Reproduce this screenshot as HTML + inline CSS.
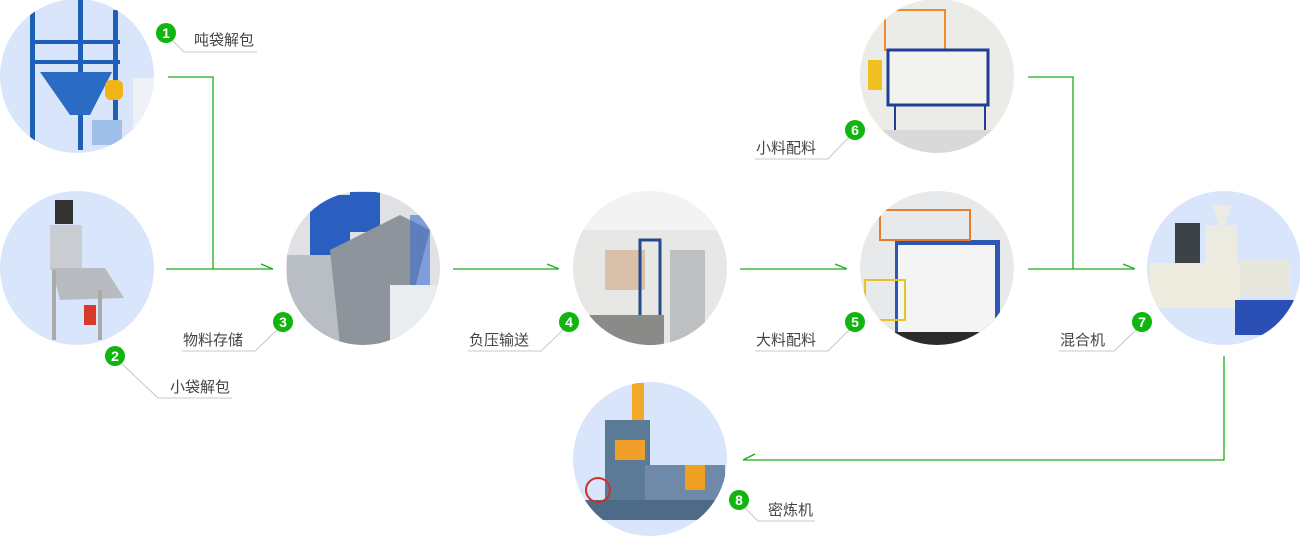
<!DOCTYPE html>
<html><head><meta charset="utf-8"><style>
html,body{margin:0;padding:0;background:#fff;width:1300px;height:538px;overflow:hidden}
svg text{font-family:"Liberation Sans","Noto Sans CJK SC",sans-serif;}
</style></head><body>
<svg width="1300" height="538" viewBox="0 0 1300 538" xmlns="http://www.w3.org/2000/svg">
<defs>
<clipPath id="c1"><circle cx="77" cy="76" r="77"/></clipPath>
<clipPath id="c2"><circle cx="77" cy="268" r="77"/></clipPath>
<clipPath id="c3"><circle cx="363" cy="268" r="77"/></clipPath>
<clipPath id="c4"><circle cx="650" cy="268" r="77"/></clipPath>
<clipPath id="c5"><circle cx="937" cy="268" r="77"/></clipPath>
<clipPath id="c6"><circle cx="937" cy="76" r="77"/></clipPath>
<clipPath id="c7"><circle cx="1224" cy="268" r="77"/></clipPath>
<clipPath id="c8"><circle cx="650" cy="459" r="77"/></clipPath>
</defs>

<!-- circle 1 -->
<g clip-path="url(#c1)">
<rect x="0" y="0" width="154" height="154" fill="#d9e5fa"/>
<rect x="30" y="0" width="5" height="150" fill="#1f5fb8"/>
<rect x="78" y="0" width="5" height="150" fill="#1f5fb8"/>
<rect x="113" y="10" width="5" height="120" fill="#1f5fb8"/>
<rect x="30" y="40" width="90" height="4" fill="#1f5fb8"/>
<rect x="30" y="60" width="90" height="4" fill="#1f5fb8"/>
<polygon points="40,72 112,72 90,115 70,115" fill="#2a6cc4"/>
<rect x="105" y="80" width="18" height="20" rx="6" fill="#f0b418"/>
<rect x="92" y="120" width="30" height="25" fill="#9fc0e8"/>
<rect x="133" y="78" width="21" height="50" fill="#eef2f6"/>
</g>
<!-- circle 2 -->
<g clip-path="url(#c2)">
<rect x="0" y="190" width="154" height="156" fill="#d9e5fa"/>
<rect x="50" y="225" width="32" height="45" fill="#c9ccd0"/>
<rect x="55" y="200" width="18" height="24" fill="#333"/>
<polygon points="52,268 105,268 124,298 60,300" fill="#b8bcc0"/>
<rect x="52" y="270" width="4" height="70" fill="#aaa"/>
<rect x="98" y="290" width="4" height="50" fill="#aaa"/>
<rect x="84" y="305" width="12" height="20" fill="#d83a2a"/>
</g>
<!-- circle 3 -->
<g clip-path="url(#c3)">
<rect x="285" y="190" width="160" height="160" fill="#dfe1e4"/>
<rect x="310" y="195" width="40" height="60" fill="#2a5fc0"/>
<rect x="350" y="192" width="30" height="40" fill="#2a5fc0"/>
<rect x="287" y="255" width="60" height="90" fill="#b9bec4"/>
<polygon points="330,250 400,215 430,230 400,345 340,345" fill="#8d949c"/>
<rect x="410" y="215" width="20" height="100" fill="#3f6fd0" opacity=".6"/>
<rect x="390" y="285" width="50" height="55" fill="#e9edf0"/>
</g>
<!-- circle 4 -->
<g clip-path="url(#c4)">
<rect x="570" y="190" width="160" height="160" fill="#e7e7e6"/>
<rect x="570" y="190" width="160" height="40" fill="#f3f3f3"/>
<rect x="605" y="250" width="40" height="40" fill="#d9c0a8"/>
<rect x="640" y="240" width="20" height="105" fill="none" stroke="#234a8a" stroke-width="3"/>
<rect x="670" y="250" width="35" height="95" fill="#bdbfc1"/>
<rect x="574" y="315" width="90" height="30" fill="#8a8a88"/>
</g>
<!-- circle 5 -->
<g clip-path="url(#c5)">
<rect x="855" y="190" width="165" height="160" fill="#e8e9ea"/>
<rect x="895" y="240" width="105" height="95" fill="#2c58b3"/>
<rect x="898" y="245" width="97" height="88" fill="#f4f4f4"/>
<rect x="880" y="210" width="90" height="30" fill="none" stroke="#e77c2f" stroke-width="2"/>
<rect x="865" y="280" width="40" height="40" fill="none" stroke="#e8c22a" stroke-width="2"/>
<rect x="860" y="332" width="160" height="15" fill="#2b2b2b"/>
</g>
<!-- circle 6 -->
<g clip-path="url(#c6)">
<rect x="855" y="0" width="165" height="155" fill="#ebebe7"/>
<rect x="885" y="10" width="60" height="40" fill="none" stroke="#ef8c2e" stroke-width="2"/>
<rect x="888" y="50" width="100" height="55" fill="#f2f2ef" stroke="#1f3f95" stroke-width="3"/>
<rect x="895" y="105" width="90" height="30" fill="none" stroke="#1f3f95" stroke-width="2"/>
<rect x="868" y="60" width="14" height="30" fill="#f0c020"/>
<rect x="860" y="130" width="160" height="25" fill="#d8d9da"/>
</g>
<!-- circle 7 -->
<g clip-path="url(#c7)">
<rect x="1145" y="190" width="160" height="160" fill="#d9e5fa"/>
<rect x="1175" y="223" width="25" height="40" fill="#3c4247"/>
<rect x="1205" y="225" width="32" height="40" fill="#ecebe2"/>
<polygon points="1212,205 1232,205 1225,225 1219,225" fill="#ecebe2"/>
<rect x="1150" y="263" width="90" height="45" fill="#edecdf"/>
<rect x="1240" y="260" width="50" height="35" fill="#e8e7dd"/>
<rect x="1235" y="300" width="65" height="35" fill="#2a4fb5"/>
</g>
<!-- circle 8 -->
<g clip-path="url(#c8)">
<rect x="570" y="380" width="160" height="160" fill="#d9e5fa"/>
<rect x="632" y="383" width="12" height="40" fill="#f0a929"/>
<rect x="605" y="420" width="45" height="80" fill="#5a7a96"/>
<rect x="615" y="440" width="30" height="20" fill="#ef9f2a"/>
<rect x="645" y="465" width="80" height="35" fill="#6e8aa8"/>
<rect x="685" y="465" width="20" height="25" fill="#f0a020"/>
<rect x="580" y="500" width="140" height="20" fill="#4d6a86"/>
<circle cx="598" cy="490" r="12" fill="none" stroke="#c8332a" stroke-width="2"/>
</g>

<!-- connectors -->
<g stroke="#1aad19" stroke-width="1.3" fill="none">
<polyline points="168,77 213,77 213,269"/>
<line x1="166" y1="269" x2="273" y2="269"/>
<line x1="261" y1="264" x2="273" y2="269"/>
<line x1="453" y1="269" x2="559" y2="269"/>
<line x1="547" y1="264" x2="559" y2="269"/>
<line x1="740" y1="269" x2="847" y2="269"/>
<line x1="835" y1="264" x2="847" y2="269"/>
<polyline points="1028,77 1073,77 1073,269"/>
<line x1="1028" y1="269" x2="1135" y2="269"/>
<line x1="1123" y1="264" x2="1135" y2="269"/>
<polyline points="1224,356 1224,460 743,460"/>
<line x1="743" y1="460" x2="755" y2="454"/>
</g>

<!-- label leader lines -->
<g stroke="#c8c8c8" stroke-width="1" fill="none">
<polyline points="172,40 184,52 257,52"/>
<polyline points="122,364 158,398 232,398"/>
<polyline points="277,330 255,351 182,351"/>
<polyline points="563,330 541,351 468,351"/>
<polyline points="849,330 828,351 755,351"/>
<polyline points="849,137 828,159 755,159"/>
<polyline points="1136,330 1114,351 1059,351"/>
<polyline points="745,508 758,521 815,521"/>
</g>

<!-- badges -->
<g fill="#10b510">
<circle cx="166" cy="33" r="10"/>
<circle cx="115" cy="356" r="10"/>
<circle cx="283" cy="322" r="10"/>
<circle cx="569" cy="322" r="10"/>
<circle cx="855" cy="322" r="10"/>
<circle cx="855" cy="130" r="10"/>
<circle cx="1142" cy="322" r="10"/>
<circle cx="739" cy="500" r="10"/>
</g>
<g fill="#fff" font-size="14" font-weight="bold" text-anchor="middle">
<text x="166" y="38">1</text>
<text x="115" y="361">2</text>
<text x="283" y="327">3</text>
<text x="569" y="327">4</text>
<text x="855" y="327">5</text>
<text x="855" y="135">6</text>
<text x="1142" y="327">7</text>
<text x="739" y="505">8</text>
</g>

<!-- labels -->
<g fill="#444" font-size="15">
<text x="194" y="45">吨袋解包</text>
<text x="170" y="392">小袋解包</text>
<text x="183" y="345">物料存储</text>
<text x="469" y="345">负压输送</text>
<text x="756" y="345">大料配料</text>
<text x="756" y="153">小料配料</text>
<text x="1060" y="345">混合机</text>
<text x="768" y="515">密炼机</text>
</g>
</svg>
</body></html>
